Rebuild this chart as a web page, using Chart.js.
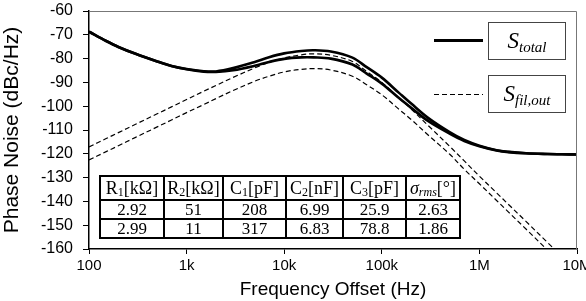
<!DOCTYPE html>
<html>
<head>
<meta charset="utf-8">
<script src="https://cdn.jsdelivr.net/npm/chart.js@4.4.1/dist/chart.umd.min.js"></script>
<style>
body{margin:0;background:#fff;}
#wrap{position:relative;width:586px;height:301px;}
#tbl{position:absolute;left:99px;top:175px;border-collapse:collapse;font-family:"Liberation Serif","Times New Roman",serif;color:#000;}
#tbl td{border:2px solid #000;text-align:center;padding:0;line-height:17px;font-size:17px;}
#tbl tr.h td{font-size:18px;height:22px;}
#tbl sub{font-size:12px;vertical-align:-2px;line-height:0;}
.lbox{position:absolute;left:488px;width:76px;height:36px;border:1.5px solid #444;font-family:"Liberation Serif","Times New Roman",serif;font-style:italic;font-size:23px;line-height:36px;text-align:center;color:#000;}
.lbox sub{font-size:15px;vertical-align:-4px;line-height:0;}
.lline{position:absolute;left:434px;width:49px;}
</style>
</head>
<body>
<div id="wrap">
<canvas id="c" width="586" height="301"></canvas>
<div class="lline" style="top:39px;height:3px;background:#000;"></div>
<div class="lbox" style="top:22px;">S<sub>total</sub></div>
<div class="lline" style="top:94px;height:1px;background:repeating-linear-gradient(90deg,#000 0 5px,transparent 5px 8px);"></div>
<div class="lbox" style="top:75px;">S<sub>fil,out</sub></div>
<table id="tbl">
<tr class="h"><td style="width:62px">R<sub>1</sub>[kΩ]</td><td style="width:57px">R<sub>2</sub>[kΩ]</td><td style="width:61px">C<sub>1</sub>[pF]</td><td style="width:55px">C<sub>2</sub>[nF]</td><td style="width:61px">C<sub>3</sub>[pF]</td><td style="width:52px"><i>σ<sub>rms</sub></i>[°]</td></tr>
<tr><td>2.92</td><td>51</td><td>208</td><td>6.99</td><td>25.9</td><td>2.63</td></tr>
<tr><td>2.99</td><td>11</td><td>317</td><td>6.83</td><td>78.8</td><td>1.86</td></tr>
</table>
</div>
<script>
const freqs=[100,150,200,300,500,700,1e3,1.5e3,2e3,3e3,5e3,7e3,1e4,1.5e4,2e4,3e4,5e4,7e4,1e5,1.5e5,2e5,3e5,5e5,7e5,1e6,1.5e6,2e6,3e6,5e6,7e6,1e7];
const totalA=[-68.7,-72.6,-75.1,-78.0,-81.2,-83.1,-84.4,-85.3,-85.4,-84.0,-81.4,-79.4,-77.8,-76.8,-76.5,-77.0,-79.6,-83.6,-88.0,-94.4,-98.9,-105.0,-111.0,-114.2,-116.6,-118.5,-119.2,-119.8,-120.1,-120.2,-120.3];
const totalB=[-68.7,-72.6,-75.1,-78.0,-81.2,-83.1,-84.5,-85.5,-85.6,-84.9,-83.0,-81.4,-80.1,-79.5,-79.5,-80.0,-82.5,-86.3,-90.5,-96.6,-100.7,-106.3,-111.6,-114.6,-116.8,-118.6,-119.3,-119.8,-120.1,-120.2,-120.3];
const filA=[-117.1,-113.6,-111.1,-107.6,-103.2,-100.3,-97.2,-93.7,-91.3,-87.9,-83.9,-81.6,-79.7,-78.4,-78.0,-78.6,-81.2,-85.4,-90.0,-96.6,-101.2,-108.2,-117.0,-123.0,-129.4,-136.4,-141.4,-148.4,-157.3,-163,-169];
const filB=[-122.6,-119.1,-116.6,-113.1,-108.7,-105.8,-102.7,-99.3,-96.8,-93.4,-89.5,-87.4,-85.6,-84.5,-84.2,-84.8,-87.4,-91.0,-95.2,-101.3,-105.6,-112.2,-120.3,-126.5,-132.6,-139.6,-144.6,-151.6,-160.5,-166,-172];
const xTicks=[100,1e3,1e4,1e5,1e6,1e7];
const xLabels=["100","1k","10k","100k","1M","10M"];
const yMin=-160,yMax=-60,yStep=10;

const pts=a=>a.map((v,i)=>({x:freqs[i],y:v}));
const solid={borderColor:"#000",borderWidth:2.6,pointRadius:0,tension:0.35,fill:false};
const dash={borderColor:"#000",borderWidth:1.2,borderDash:[5,3],pointRadius:0,tension:0.35,fill:false};

const frame={id:"frame",afterDraw(ch){
  const a=ch.chartArea,g=ch.ctx;g.save();g.strokeStyle="#777";g.lineWidth=1;
  g.beginPath();g.moveTo(a.left,a.top+0.5);g.lineTo(a.right-0.5,a.top+0.5);g.lineTo(a.right-0.5,a.bottom);g.stroke();g.restore();
}};

new Chart(document.getElementById("c"),{
  type:"line",
  data:{datasets:[
    {...solid,data:pts(totalA)},
    {...solid,data:pts(totalB)},
    {...dash,data:pts(filA)},
    {...dash,data:pts(filB)}
  ]},
  options:{
    responsive:false,animation:false,
    layout:{padding:{top:11,right:9,left:0,bottom:0}},
    plugins:{legend:{display:false},tooltip:{enabled:false}},
    scales:{
      x:{type:"logarithmic",min:100,max:1e7,
        afterBuildTicks:s=>{s.ticks=xTicks.map(v=>({value:v}));},
        afterFit:s=>{s.height=52;s.paddingLeft=0;s.paddingRight=0;},
        ticks:{callback:(v)=>{const i=xTicks.indexOf(v);return i<0?null:xLabels[i];},color:"#000",font:{family:"Liberation Sans, Arial",size:15},padding:3,maxRotation:0,autoSkip:false},
        grid:{drawOnChartArea:false,drawTicks:true,tickLength:5,color:"#000"},
        border:{color:"#000",width:1.5},
        title:{display:true,text:"Frequency Offset (Hz)",color:"#000",font:{family:"Liberation Sans, Arial",size:19},padding:{top:0,bottom:0}}
      },
      y:{min:yMin,max:yMax,
        afterFit:s=>{s.width=89;s.paddingTop=0;s.paddingBottom=0;},
        ticks:{stepSize:yStep,color:"#000",font:{family:"Liberation Sans, Arial",size:16},padding:10},
        grid:{drawOnChartArea:false,drawTicks:true,tickLength:6,color:"#000"},
        border:{color:"#000",width:1.5},
        title:{display:true,text:"Phase Noise (dBc/Hz)",color:"#000",font:{family:"Liberation Sans, Arial",size:21},padding:{top:0,bottom:0}}
      }
    }
  },
  plugins:[frame]
});
</script>
</body>
</html>
